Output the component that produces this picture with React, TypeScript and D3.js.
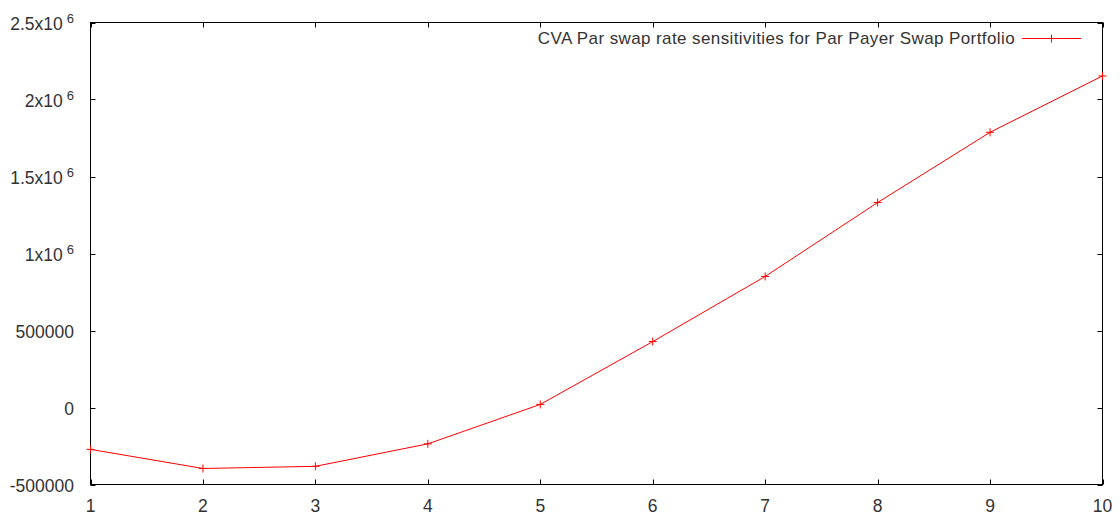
import { useEffect, useRef } from 'react';
import * as d3 from 'd3';

const xValues = [1, 2, 3, 4, 5, 6, 7, 8, 9, 10];
const cvaSensitivities = [-272000, -396000, -382000, -236000, 20000, 428000, 851000, 1331000, 1787000, 2153000];
const yTicks = [-500000, 0, 500000, 1000000, 1500000, 2000000, 2500000];
const seriesLabel = 'CVA Par swap rate sensitivities for Par Payer Swap Portfolio';

const W = 1120;
const H = 515;

export default function App() {
  const svgRef = useRef<SVGSVGElement>(null);

  useEffect(() => {
    if (!svgRef.current) return;
    const svg = d3.select(svgRef.current);
    svg.selectAll('*').remove();

    const margin = { top: 22.5, right: 17.5, bottom: 30.5, left: 90.5 };
    const x = d3.scaleLinear().domain([1, 10]).range([margin.left, W - margin.right]);
    const y = d3.scaleLinear().domain([-500000, 2500000]).range([H - margin.bottom, margin.top]);

    const font = 'Liberation Sans, Arial, sans-serif';
    const textColor = '#333';

    // tick marks on all four sides, pointing inward
    const tl = 5;
    const ticks = svg.append('g').attr('stroke', '#000').attr('stroke-width', 1);
    yTicks.forEach(v => {
      const yy = Math.round(y(v)) + 0.5;
      ticks.append('line').attr('x1', x(1)).attr('x2', x(1) + tl).attr('y1', yy).attr('y2', yy);
      ticks.append('line').attr('x1', x(10)).attr('x2', x(10) - tl).attr('y1', yy).attr('y2', yy);
    });
    xValues.forEach(v => {
      const xx = Math.round(x(v)) + 0.5;
      ticks.append('line').attr('x1', xx).attr('x2', xx).attr('y1', y(-500000)).attr('y2', y(-500000) - tl);
      ticks.append('line').attr('x1', xx).attr('x2', xx).attr('y1', y(2500000)).attr('y2', y(2500000) + tl);
    });

    // y tick labels, gnuplot style exponent notation
    const yLabels = svg.append('g').attr('font-family', font).attr('font-size', 17.5).attr('fill', textColor);
    yTicks.forEach(v => {
      const t = yLabels.append('text')
        .attr('x', 74)
        .attr('y', y(v) + 7)
        .attr('text-anchor', 'end');
      if (Math.abs(v) >= 1000000) {
        const m = v / 1000000;
        t.append('tspan').text(`${m}x10`);
        t.append('tspan').attr('dx', 4).attr('dy', -7).attr('font-size', 13).text('6');
      } else {
        t.text(String(v));
      }
    });

    // x tick labels
    svg.append('g')
      .attr('font-family', font).attr('font-size', 17.5).attr('fill', textColor)
      .selectAll('text')
      .data(xValues)
      .join('text')
      .attr('x', d => x(d))
      .attr('y', H - 3)
      .attr('text-anchor', 'middle')
      .text(d => d);

    // frame
    svg.append('rect')
      .attr('x', x(1)).attr('y', y(2500000))
      .attr('width', x(10) - x(1)).attr('height', y(-500000) - y(2500000))
      .attr('fill', 'none').attr('stroke', '#000').attr('stroke-width', 1);

    const data = xValues.map((d, i) => [d, cvaSensitivities[i]] as [number, number]);
    const line = d3.line<[number, number]>().x(d => x(d[0])).y(d => y(d[1]));

    svg.append('path')
      .datum(data)
      .attr('fill', 'none')
      .attr('stroke', '#ff0000')
      .attr('stroke-width', 1)
      .attr('d', line);

    const ms = 4;
    const marks = svg.append('g').attr('stroke', '#ff0000').attr('stroke-width', 1);
    data.forEach(d => {
      const px = x(d[0]);
      const py = y(d[1]);
      marks.append('line').attr('x1', px - ms).attr('x2', px + ms).attr('y1', py).attr('y2', py);
      marks.append('line').attr('x1', px).attr('x2', px).attr('y1', py - ms).attr('y2', py + ms);
    });

    // legend
    const ly = 38.5;
    svg.append('text')
      .attr('x', 1015).attr('y', ly + 5.5)
      .attr('text-anchor', 'end')
      .attr('font-family', font).attr('font-size', 17).attr('letter-spacing', 0.4)
      .attr('fill', textColor)
      .text(seriesLabel);
    svg.append('line').attr('x1', 1022).attr('x2', 1081).attr('y1', ly).attr('y2', ly)
      .attr('stroke', '#ff0000');
    svg.append('line').attr('x1', 1051.5 - ms).attr('x2', 1051.5 + ms).attr('y1', ly).attr('y2', ly)
      .attr('stroke', '#ff0000');
    svg.append('line').attr('x1', 1051.5).attr('x2', 1051.5).attr('y1', ly - ms).attr('y2', ly + ms)
      .attr('stroke', '#ff0000');
  }, []);

  return (
    <svg ref={svgRef} width={W} height={H}
      style={{ position: 'absolute', left: 0, top: 0, background: '#fff' }} />
  );
}
